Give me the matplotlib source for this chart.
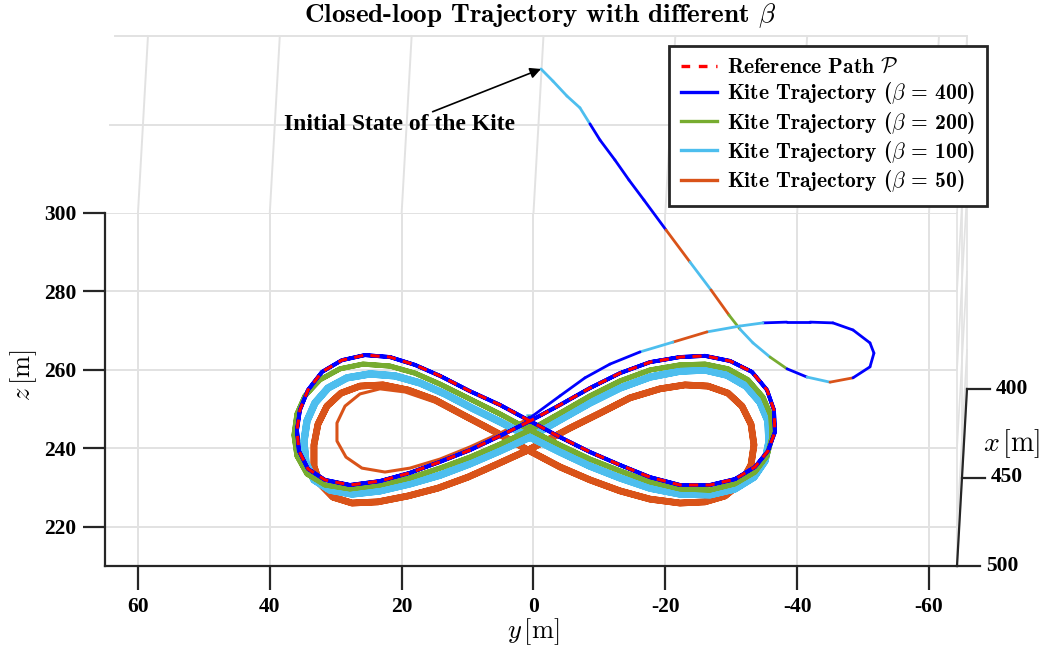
import matplotlib
matplotlib.use('Agg')
import matplotlib.pyplot as plt
from matplotlib.lines import Line2D

plt.rcParams['mathtext.fontset'] = 'cm'
plt.rcParams['font.family'] = 'Liberation Serif'
plt.rcParams['font.weight'] = 'bold'
plt.rcParams['axes.unicode_minus'] = False

# ---- data (y = lateral [m], z = height [m]) ----
y_ticks = [60, 40, 20, 0, -20, -40, -60]
z_ticks = [220, 240, 260, 280, 300]
x_ticks = [400, 450, 500]

# shared transient from the initial state (all four runs)
trans_y = [-1.14, -2.96, -5.08, -7.05, -8.57, -10.09, -12.36, -14.49, -16.76, -20.10,
           -23.74, -26.93, -29.66, -31.33, -33.30, -35.88, -38.46, -41.49, -44.98, -48.47,
           -51.05, -51.65, -51.05, -48.47, -45.43, -41.94, -38.46, -34.81, -31.33, -26.32,
           -21.16, -16.16, -11.60, -7.81, -4.02, 0.53]
trans_z = [336.7, 333.6, 329.8, 326.8, 322.7, 318.6, 313.5, 308.4, 303.3, 295.7,
           287.5, 280.4, 274.0, 270.4, 266.9, 263.3, 260.3, 258.2, 256.9, 258.0,
           260.8, 264.3, 266.9, 270.2, 272.0, 272.2, 272.2, 272.0, 271.2, 269.7,
           267.1, 264.6, 261.5, 258.0, 253.4, 247.8]
# which run shows on top along each transient segment
trans_top = ['b100'] * 4 + ['b400'] * 5 + ['b50', 'b100', 'b50', 'b200', 'b100', 'b100',
             'b200', 'b400', 'b100', 'b50'] + ['b400'] * 8 + ['b100', 'b100', 'b50', 'b100'] + ['b400'] * 4

# reference path P
ref_y = [0.53, 5.08, 9.63, 14.18, 18.73, 23.29, 27.84, 31.63, 34.21, 35.58, 35.88, 35.43,
         34.21, 32.09, 29.06, 25.57, 21.78, 17.98, 14.18, 9.63, 5.08,
         0.53, -4.02, -8.57, -13.12, -17.67, -22.22, -26.78, -30.57, -33.61, -35.58, -36.63,
         -36.48, -35.43, -33.16, -29.82, -26.02, -22.22, -17.67, -13.12, -8.57, -4.02]
ref_z = [247.0, 243.2, 239.6, 236.6, 233.8, 231.7, 230.7, 232.0, 234.8, 239.4, 244.7, 249.8,
         254.9, 259.5, 262.5, 263.8, 263.3, 261.3, 258.5, 254.6, 251.1,
         247.0, 242.9, 239.1, 235.8, 232.7, 230.7, 230.7, 232.2, 235.3, 239.4, 244.2,
         249.8, 254.9, 259.5, 262.3, 263.6, 263.3, 262.0, 259.2, 255.4, 251.1]

# beta = 200
b200_y = [0.53, 5.08, 9.63, 14.18, 18.73, 23.29, 27.84, 31.63, 34.36, 35.88, 36.33, 35.88,
          34.67, 32.39, 29.35, 25.86, 21.77, 17.98, 14.18, 9.63, 5.08,
          0.53, -4.02, -8.57, -13.12, -17.67, -22.22, -26.78, -30.57, -33.61, -35.43, -36.18,
          -36.03, -34.82, -32.54, -29.51, -26.02, -22.22, -17.67, -13.12, -8.57, -4.02]
b200_z = [244.7, 241.1, 237.8, 235.0, 232.5, 230.7, 229.7, 230.7, 233.5, 238.1, 243.4, 248.8,
          253.4, 257.5, 260.3, 261.5, 261.0, 259.2, 256.4, 252.6, 248.8,
          244.7, 240.9, 237.3, 234.3, 231.5, 229.7, 229.4, 231.0, 234.0, 238.1, 242.9,
          248.3, 253.1, 257.5, 260.3, 261.5, 261.3, 260.0, 257.2, 253.4, 249.0]

# beta = 100
b100_y = [0.53, 5.08, 9.63, 14.18, 18.73, 23.29, 27.53, 30.87, 33.30, 34.51, 34.82, 34.36,
          33.15, 31.17, 28.29, 24.80, 21.01, 17.22, 13.43, 9.33, 5.08,
          0.53, -4.02, -8.57, -13.12, -17.67, -22.22, -26.78, -30.57, -33.45, -35.12, -35.72,
          -35.57, -34.36, -32.24, -29.35, -26.02, -22.22, -17.67, -13.12, -8.57, -4.02]
b100_z = [242.9, 239.4, 236.1, 233.2, 231.0, 229.2, 228.4, 229.4, 232.0, 236.3, 241.7, 247.0,
          251.6, 255.4, 258.0, 259.0, 258.5, 256.7, 253.9, 250.3, 246.8,
          242.9, 239.1, 235.5, 232.5, 229.9, 228.4, 228.2, 229.7, 232.7, 236.8, 241.7,
          247.0, 251.8, 255.9, 258.7, 260.0, 259.7, 258.2, 255.4, 251.6, 247.3]

# beta = 50 (approach lap, then periodic orbit)
b50_app_y = [5.08, 9.63, 14.18, 18.73, 22.53, 26.02, 28.44, 29.81, 29.81, 28.59, 26.32,
             23.29, 19.49, 14.94, 10.39, 5.54]
b50_app_z = [243.9, 240.4, 237.3, 235.0, 234.0, 235.0, 237.8, 241.9, 246.5, 250.8, 253.9,
             255.2, 254.4, 251.8, 247.8, 243.7]
b50_y = [0.83, 5.39, 9.94, 14.49, 19.04, 23.59, 27.53, 30.42, 32.39, 33.30, 33.30, 32.69,
         31.33, 29.20, 26.32, 22.83, 19.04, 14.94, 10.39, 5.54,
         0.83, -4.02, -8.57, -13.12, -17.67, -22.22, -26.02, -29.05, -31.48, -33.00, -33.45,
         -33.00, -31.63, -29.51, -26.47, -22.98, -19.19, -14.64, -10.09, -5.54, -2.20]
b50_z = [239.6, 236.1, 232.7, 229.9, 227.9, 226.4, 226.1, 227.6, 231.0, 235.5, 240.9, 246.2,
         250.8, 254.1, 255.9, 256.2, 254.9, 252.4, 248.3, 244.0,
         239.6, 235.3, 232.0, 229.2, 227.1, 226.1, 226.4, 227.9, 231.2, 235.8, 240.9,
         246.2, 250.8, 254.1, 255.9, 256.2, 255.2, 252.9, 249.0, 245.2, 242.2]

colors = {'ref': '#FF0000', 'b400': '#0000FF', 'b200': '#77AC30',
          'b100': '#4DBEEE', 'b50': '#D95319'}
dash = (0, (3.0, 2.4))

# ---- axes: back wall of the 3-D box seen almost head-on ----
W, H = 1050, 647
fig = plt.figure(figsize=(W / 100, H / 100), dpi=100)
ylo, yhi = 65.0, -64.25
zlo, zhi = 210.06, 300.0
L, R, B, T = 105, 957, 566, 213

axf = fig.add_axes([0, 0, 1, 1], zorder=0)
axf.set_xlim(0, W)
axf.set_ylim(H, 0)
axf.axis('off')

ax = fig.add_axes([L / W, (H - B) / H, (R - L) / W, (B - T) / H], zorder=1)
ax.patch.set_visible(False)
ax.set_xlim(ylo, yhi)
ax.set_ylim(zlo, zhi)


def to_px(x, y, z):
    # screen position of a box point, x is the depth axis
    px = L + (ylo - y) / (ylo - yhi) * (R - L) + (500 - x) * 0.1
    py = B - (z - zlo) / (zhi - zlo) * (B - T) - (500 - x) * 1.77
    return px, py


grid_c = '#e2e2e2'
# ceiling (z = top) grid
for yv in y_ticks:
    p0, p1 = to_px(500, yv, zhi), to_px(400, yv, zhi)
    axf.plot([p0[0], p1[0]], [p0[1], p1[1]], color=grid_c, lw=1.4)
for xv in [400, 450]:
    p0, p1 = to_px(xv, ylo, zhi), to_px(xv, yhi, zhi)
    axf.plot([p0[0], p1[0]], [p0[1], p1[1]], color=grid_c, lw=1.4)
# right side wall grid
for zv in z_ticks + [zlo]:
    p0, p1 = to_px(500, yhi, zv), to_px(400, yhi, zv)
    axf.plot([p0[0], p1[0]], [p0[1], p1[1]], color=grid_c, lw=1.2)
for xv in x_ticks:
    p0, p1 = to_px(xv, yhi, zlo), to_px(xv, yhi, zhi)
    axf.plot([p0[0], p1[0]], [p0[1], p1[1]], color=grid_c, lw=1.2)

# x axis on the right
p0, p1 = to_px(400, yhi, zlo), to_px(500, yhi, zlo)
axf.plot([p0[0], p1[0]], [p0[1], p1[1]], color='#262626', lw=1.6)
for xv in x_ticks:
    px, py = to_px(xv, yhi, zlo)
    axf.plot([px, px + 23], [py, py], color='#262626', lw=1.6)
    axf.text(px + 29, py, str(xv), ha='left', va='center', fontsize=15.5,
             fontfamily='Liberation Serif', fontweight='bold')
axf.text(1012, 444, '$x\\,[\\mathrm{m}]$', ha='center', va='center', fontsize=20)

# ---- trajectories (periodic part, starting where the transient ends) ----
start_y, start_z = trans_y[-1:], trans_z[-1:]
ax.plot(start_y + b50_app_y + b50_y[:1], start_z + b50_app_z + b50_z[:1],
        color=colors['b50'], lw=2.2, clip_on=False, zorder=2)
ax.plot(b50_y * 2 + b50_y[:1], b50_z * 2 + b50_z[:1],
        color=colors['b50'], lw=4.8, clip_on=False, zorder=2)
ax.plot(start_y + b100_y * 2 + b100_y[:1], start_z + b100_z * 2 + b100_z[:1],
        color=colors['b100'], lw=5.2, clip_on=False, zorder=3)
ax.plot(start_y + b200_y * 2 + b200_y[:1], start_z + b200_z * 2 + b200_z[:1],
        color=colors['b200'], lw=3.6, clip_on=False, zorder=4)
ax.plot(start_y + ref_y * 2 + ref_y[:1], start_z + ref_z * 2 + ref_z[:1],
        color=colors['b400'], lw=2.8, clip_on=False, zorder=5)

# transient: the four runs overlap, show whichever is on top
for i, key in enumerate(trans_top):
    ax.plot(trans_y[i:i + 2], trans_z[i:i + 2], color=colors[key], lw=2.0,
            solid_capstyle='round', clip_on=False, zorder=6)

ax.plot(ref_y + ref_y[:1], ref_z + ref_z[:1], color=colors['ref'], lw=2.2,
        ls=dash, clip_on=False, zorder=7)

# ---- axes styling ----
ax.set_xticks(y_ticks)
ax.set_yticks(z_ticks)
ax.grid(True, color=grid_c, lw=1.4)
ax.set_axisbelow(True)
for s in ['top', 'right']:
    ax.spines[s].set_visible(False)
for s in ['left', 'bottom']:
    ax.spines[s].set_color('#262626')
    ax.spines[s].set_linewidth(1.6)
ax.tick_params(axis='y', direction='out', length=15.5, width=1.6, pad=5,
               color='#262626', labelsize=15.5)
ax.tick_params(axis='x', direction='out', length=17, width=1.6, pad=5,
               color='#262626', labelsize=15.5)
ax.set_xlabel('$y\\,[\\mathrm{m}]$', fontsize=19)
ax.xaxis.set_label_coords(0.502, -0.142)
ax.set_ylabel('$z\\,[\\mathrm{m}]$', fontsize=19)
ax.yaxis.set_label_coords(-0.077, 0.54)

ax.annotate('Initial State of the Kite', xy=(trans_y[0], trans_z[0]),
            xytext=(399, H - 125), textcoords='figure pixels',
            ha='center', va='center', fontsize=17,
            arrowprops=dict(arrowstyle='-|>', color='k', lw=1.2, mutation_scale=16,
                            shrinkA=0, shrinkB=0),
            annotation_clip=False, zorder=8)

handles = [Line2D([], [], color=colors['ref'], ls=(0, (2.6, 2.6)), lw=2.4),
           Line2D([], [], color=colors['b400'], lw=2.4),
           Line2D([], [], color=colors['b200'], lw=2.4),
           Line2D([], [], color=colors['b100'], lw=2.4),
           Line2D([], [], color=colors['b50'], lw=2.4)]
labels = ['Reference Path $\\mathcal{P}$',
          'Kite Trajectory ($\\beta$ = 400)',
          'Kite Trajectory ($\\beta$ = 200)',
          'Kite Trajectory ($\\beta$ = 100)',
          'Kite Trajectory ($\\beta$ = 50)']
leg = ax.legend(handles, labels, loc='upper right', bbox_to_anchor=(987 / W, 1 - 46 / H),
                bbox_transform=fig.transFigure, borderaxespad=0,
                prop={'family': 'cmb10', 'size': 15.5}, fancybox=False, framealpha=1,
                edgecolor='#262626', handlelength=1.7, handletextpad=0.45,
                labelspacing=0.15, borderpad=0.55)
leg.get_frame().set_linewidth(2.0)
leg.set_zorder(10)

fig.text(540 / W, 1 - 16 / H, 'Closed-loop Trajectory with different $\\beta$',
         ha='center', va='center', fontfamily='cmb10', fontsize=19.5)

fig.savefig('out.png', dpi=100)
